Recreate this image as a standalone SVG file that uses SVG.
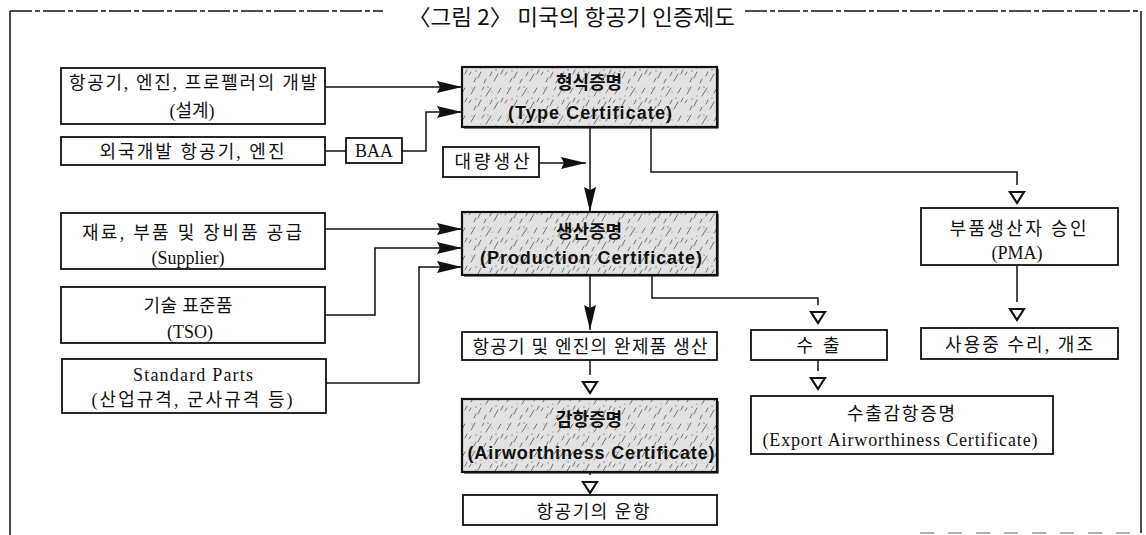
<svg xmlns="http://www.w3.org/2000/svg" width="1146" height="535" viewBox="0 0 1146 535">
<style>
.frame{fill:none;stroke:#111;stroke-width:1.5}
.box{fill:#fff;stroke:#111;stroke-width:1.8}
.cert{fill:url(#tex);stroke:#111;stroke-width:2.2}
.t{font-family:"Liberation Serif","Noto Sans CJK KR",serif;font-size:18px;text-anchor:middle;fill:#111}
.h{font-family:"Liberation Sans","Noto Sans CJK KR",sans-serif;font-weight:bold;font-size:18px;text-anchor:middle;fill:#111}
.ttl{font-family:"Noto Sans CJK KR","Liberation Sans",sans-serif;font-size:22px;fill:#111}
.c{fill:none;stroke:#111;stroke-width:1.5}
.ca{fill:none;stroke:#111;stroke-width:1.5;marker-end:url(#arr)}
.ch{fill:none;stroke:#111;stroke-width:1.5;marker-end:url(#tri)}
</style>
<defs>
<marker id="arr" markerUnits="userSpaceOnUse" markerWidth="26" markerHeight="14" viewBox="0 -7 26 14" refX="25" refY="0" orient="auto" overflow="visible">
<path d="M0,-6 L25,0 L0,6 L3,0 Z" fill="#111"/>
</marker>
<marker id="tri" markerUnits="userSpaceOnUse" markerWidth="20" markerHeight="16" viewBox="0 -8 20 16" refX="0" refY="0" orient="auto" overflow="visible">
<path d="M7,-7 L18,0 L7,7 Z" fill="#fff" stroke="#111" stroke-width="2.2" stroke-linejoin="miter"/>
</marker>
<pattern id="tex" width="36" height="28" patternUnits="userSpaceOnUse">
<rect width="36" height="28" fill="#e2e2e2"/>
<path d="M3,10 l4,-7 M10,22 l3,-6 M18,12 l5,-8 M26,25 l4,-7 M30,9 l3,-5 M6,26 l2,-4 M14,6 l2,-3 M22,20 l2,-4 M33,18 l2,-4 M1,19 l2,-3 M16,27 l2,-4" stroke="#666" stroke-width="0.9" stroke-linecap="round" fill="none"/>
<g fill="#777"><circle cx="8" cy="15" r="0.7"/><circle cx="20" cy="3" r="0.7"/><circle cx="28" cy="14" r="0.7"/><circle cx="13" cy="12" r="0.6"/><circle cx="24" cy="8" r="0.6"/><circle cx="4" cy="4" r="0.6"/></g>
</pattern>
</defs>

<g id="frame">
<path class="frame" d="M10,11 V535 M1141,11 V533" />
<path class="frame" d="M10,11 H383 M745,11 H1141" stroke-dasharray="22 3 5 3"/>
<path d="M920,533 H1141" stroke="#999" stroke-width="1.5" stroke-dasharray="14 14"/>
<text class="ttl" x="408" y="25" textLength="327" lengthAdjust="spacingAndGlyphs">〈그림 2〉 미국의 항공기 인증제도</text>
</g>

<g id="connectors">
<path class="ca" d="M325,87 H462"/>
<path class="c" d="M325,151 H346"/>
<path class="ca" d="M402,151 H426 V112 H462"/>
<path class="ca" d="M539,163 H586"/>
<path class="ca" d="M590,127 V212"/>
<path class="ch" d="M651,127 V172 H1017 V185"/>
<path class="ch" d="M1017,265 V302"/>
<path class="ca" d="M325,229 H462"/>
<path class="ca" d="M325,315 H375 V248 H462"/>
<path class="ca" d="M326,383 H419 V267 H462"/>
<path class="ca" d="M590,275 V330"/>
<path class="ch" d="M652,275 V298 H818 V305"/>
<path class="ch" d="M818,360 V371"/>
<path class="ch" d="M590,360 V375"/>
<path class="ch" d="M590,472 V475"/>
</g>

<g id="n-design">
<rect class="box" x="61" y="68" width="264" height="56"/>
<text class="t" x="193" y="89" textLength="248">항공기, 엔진, 프로펠러의 개발</text>
<text class="t" x="192" y="117">(설계)</text>
</g>
<g id="n-foreign">
<rect class="box" x="61" y="137" width="264" height="28"/>
<text class="t" x="192" y="158" textLength="185">외국개발 항공기, 엔진</text>
</g>
<g id="n-baa">
<rect class="box" x="346" y="138" width="56" height="25"/>
<text class="t" x="374" y="157">BAA</text>
</g>
<g id="n-tc">
<rect class="cert" x="462" y="67" width="255" height="60"/>
<path d="M718,69 V128 H464" fill="none" stroke="#111" stroke-width="1.2"/>
<text class="h" x="589" y="89">형식증명</text>
<text class="h" x="590" y="119" textLength="164">(Type Certificate)</text>
</g>
<g id="n-mass">
<rect class="box" x="443" y="147" width="96" height="30"/>
<text class="t" x="492" y="168" textLength="75">대량생산</text>
</g>
<g id="n-pc">
<rect class="cert" x="462" y="212" width="255" height="63"/>
<path d="M718,214 V276 H464" fill="none" stroke="#111" stroke-width="1.2"/>
<text class="h" x="589" y="238">생산증명</text>
<text class="h" x="591" y="264" textLength="222">(Production Certificate)</text>
</g>
<g id="n-pma">
<rect class="box" x="921" y="208" width="197" height="57"/>
<text class="t" x="1018" y="235" textLength="137">부품생산자 승인</text>
<text class="t" x="1017" y="259">(PMA)</text>
</g>
<g id="n-repair">
<rect class="box" x="921" y="328" width="197" height="31"/>
<text class="t" x="1019" y="351" textLength="148">사용중 수리, 개조</text>
</g>
<g id="n-supplier">
<rect class="box" x="61" y="213" width="264" height="56"/>
<text class="t" x="192" y="239" textLength="220">재료, 부품 및 장비품 공급</text>
<text class="t" x="188" y="264">(Supplier)</text>
</g>
<g id="n-tso">
<rect class="box" x="61" y="287" width="264" height="56"/>
<text class="t" x="188" y="312" textLength="89">기술 표준품</text>
<text class="t" x="190" y="338">(TSO)</text>
</g>
<g id="n-std">
<rect class="box" x="62" y="359" width="264" height="54"/>
<text class="t" x="193" y="381" textLength="120">Standard Parts</text>
<text class="t" x="192" y="406" textLength="201">(산업규격, 군사규격 등)</text>
</g>
<g id="n-complete">
<rect class="box" x="462" y="332" width="255" height="28"/>
<text class="t" x="590" y="353" textLength="235">항공기 및 엔진의 완제품 생산</text>
</g>
<g id="n-export">
<rect class="box" x="751" y="330" width="136" height="30"/>
<text class="t" x="818" y="352" textLength="43">수 출</text>
</g>
<g id="n-eac">
<rect class="box" x="751" y="396" width="302" height="58"/>
<text class="t" x="901" y="420" textLength="108">수출감항증명</text>
<text class="t" x="900" y="446" textLength="275">(Export Airworthiness Certificate)</text>
</g>
<g id="n-ac">
<rect class="cert" x="462" y="399" width="255" height="73"/>
<path d="M718,401 V473 H464" fill="none" stroke="#111" stroke-width="1.2"/>
<text class="h" x="589" y="426">감항증명</text>
<text class="h" x="591" y="459" textLength="247">(Airworthiness Certificate)</text>
</g>
<g id="n-op">
<rect class="box" x="463" y="495" width="254" height="30"/>
<text class="t" x="593" y="518" textLength="113">항공기의 운항</text>
</g>
</svg>
